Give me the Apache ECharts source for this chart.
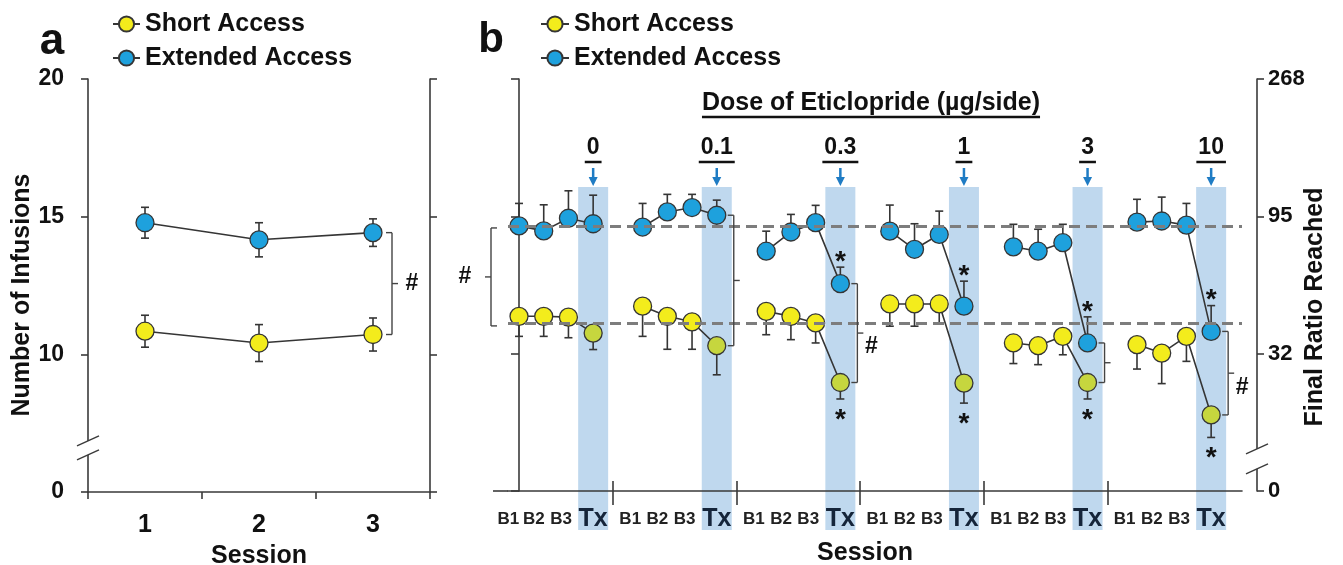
<!DOCTYPE html>
<html><head><meta charset="utf-8">
<script src="https://cdn.jsdelivr.net/npm/echarts@6/dist/echarts.min.js"></script>
<style>html,body{margin:0;padding:0;background:#fff}#c{width:1343px;height:565px}</style>
</head><body><div id="c"></div>
<script>
// ---------------- data ----------------
const seriesNames = ['Short Access', 'Extended Access'];
// Panel a
const sessionsA = ['1', '2', '3'];
const shortA = [10.84, 10.41, 10.72];
const shortAErr = [0.58, 0.67, 0.60];
const extA = [14.78, 14.16, 14.42];
const extAErr = [0.56, 0.62, 0.50];
const yTickVals = [5, 10, 15, 20];            // axis break: 5 is drawn as "0"
const yTickLabelsA = ['0', '10', '15', '20'];
// Panel b
const doses = ['0', '0.1', '0.3', '1', '3', '10'];
const sessionLabelsB = ['B1', 'B2', 'B3', 'Tx'];
const rightTickLabelsB = ['0', '32', '95', '268'];
const shortB = [
  [11.36, 11.36, 11.33, 10.75],
  [11.73, 11.36, 11.16, 10.29],
  [11.54, 11.36, 11.12, 8.95],
  [11.81, 11.81, 11.81, 8.93],
  [10.39, 10.29, 10.63, 8.95],
  [10.33, 10.02, 10.63, 7.77]
];
const shortBErr = [
  [0.73, 0.73, 0.75, 0.60],
  [1.10, 1.20, 1.00, 1.06],
  [0.85, 0.85, 0.73, 0.60],
  [0.81, 0.81, 0.69, 0.73],
  [0.75, 0.69, 0.67, 0.60],
  [0.89, 1.11, 0.91, 0.82]
];
const extB = [
  [14.65, 14.47, 14.93, 14.73],
  [14.61, 15.16, 15.32, 15.04],
  [13.73, 14.43, 14.77, 12.55],
  [14.46, 13.80, 14.34, 11.73],
  [13.89, 13.73, 14.04, 10.39],
  [14.79, 14.83, 14.68, 10.81]
];
const extBErr = [
  [0.82, 0.95, 1.00, 1.04],
  [0.86, 0.64, 0.48, 0.55],
  [0.73, 0.64, 0.63, 0.60],
  [0.95, 0.93, 0.85, 0.91],
  [0.82, 0.80, 0.67, 0.95],
  [0.83, 0.87, 0.79, 0.94]
];
const baselineExt = 14.65;
const baselineShort = 11.12;
const sigTx = [false, false, true, true, true, true];      // * on Tx points
const txBracket = [null, '', '#', null, '', '#'];         // bracket between Tx points

// ---------------- style / layout ----------------
const FONT = '"Liberation Sans", Arial, Helvetica, sans-serif';
const YELLOW = '#f3ec1c', BLUE = '#1ea1dd', GREEN = '#c6d63e', EDGE = '#353535', AX = '#3a3a3a';
const BAND = '#bfd8ee';
const GA = {left: 88, top: 79, width: 342, height: 413};
const GB = {left: 508, top: 79, width: 734, height: 412};
const GROUP = 5;
const XMIN_B = -0.445, XMAX_B = 29.248;
const BAND_TOP = 16.07;
const labelOffsets = [-0.5, 0.6, 1.7, 3];
const xPos = (g, p) => g * GROUP + p;

// label positions for panel b x axis
const xLabelVals = [], xLabelText = {};
doses.forEach((d, g) => labelOffsets.forEach((o, i) => {
  const v = +Math.max(g * GROUP + o, XMIN_B + 0.01).toFixed(3);
  xLabelVals.push(v); xLabelText[v.toFixed(2)] = sessionLabelsB[i];
}));
const sepVals = doses.slice(1).map((d, g) => +(g * GROUP + 3.8).toFixed(2));

function buildLine(vals, txColor) {
  const out = [];
  vals.forEach((grp, g) => {
    grp.forEach((v, p) => {
      const item = {value: [xPos(g, p), v]};
      if (p === 3 && txColor) item.itemStyle = {color: txColor};
      out.push(item);
    });
    if (g < vals.length - 1) out.push({value: [xPos(g, 4), '-']});
  });
  return out;
}
function buildErr(vals, errs, up) {
  const out = [];
  vals.forEach((grp, g) => grp.forEach((v, p) => {
    out.push(up ? [xPos(g, p), v, errs[g][p], 0] : [xPos(g, p), v, 0, errs[g][p]]);
  }));
  return out;
}
function renderErr(params, api) {
  const x = api.value(0), y = api.value(1), up = api.value(2), dn = api.value(3);
  const c = api.coord([x, y]), t = api.coord([x, y + up]), b = api.coord([x, y - dn]);
  const st = {stroke: EDGE, lineWidth: 1.6};
  const ch = [{type: 'line', shape: {x1: c[0], y1: t[1], x2: c[0], y2: b[1]}, style: st}];
  if (up > 0) ch.push({type: 'line', shape: {x1: c[0] - 4, y1: t[1], x2: c[0] + 4, y2: t[1]}, style: st});
  if (dn > 0) ch.push({type: 'line', shape: {x1: c[0] - 4, y1: b[1], x2: c[0] + 4, y2: b[1]}, style: st});
  return {type: 'group', children: ch};
}
function bracketShape(x, y1, y2, stubDir, tickDir, label, lx, ly) {
  const st = {stroke: '#444', lineWidth: 1.4};
  const ym = (y1 + y2) / 2;
  const ch = [
    {type: 'line', shape: {x1: x, y1: y1, x2: x, y2: y2}, style: st},
    {type: 'line', shape: {x1: x, y1: y1, x2: x + stubDir * 6, y2: y1}, style: st},
    {type: 'line', shape: {x1: x, y1: y2, x2: x + stubDir * 6, y2: y2}, style: st},
    {type: 'line', shape: {x1: x, y1: ym, x2: x + tickDir * 6, y2: ym}, style: st}
  ];
  if (label) ch.push({type: 'text', x: lx, y: ly === undefined ? ym : ly,
    style: {text: label, font: 'bold 23px ' + FONT, fill: '#111', align: 'center', verticalAlign: 'middle'}});
  return {type: 'group', children: ch};
}

const bandData = doses.map((d, g) => [xPos(g, 3), BAND_TOP]);
const astExt = [], astShort = [];
doses.forEach((d, g) => { if (sigTx[g]) {
  astExt.push([xPos(g, 3), extB[g][3] + extBErr[g][3]]);
  astShort.push([xPos(g, 3), shortB[g][3] - shortBErr[g][3]]);
}});
const bracketData = [], bracketLabels = [];
doses.forEach((d, g) => { if (txBracket[g] !== null) {
  bracketData.push([xPos(g, 3), extB[g][3], shortB[g][3]]); bracketLabels.push(txBracket[g]);
}});

const axisLine = {show: true, lineStyle: {color: AX, width: 1.6}};
const lab = (size) => ({fontFamily: FONT, fontWeight: 'bold', fontSize: size, color: '#111'});

const option = {
  animation: false,
  backgroundColor: '#fff',
  grid: [
    {left: GA.left, top: GA.top, width: GA.width, height: GA.height, containLabel: false, outerBoundsMode: 'none'},
    {left: GB.left, top: GB.top, width: GB.width, height: GB.height, containLabel: false, outerBoundsMode: 'none'}
  ],
  legend: [
    {orient: 'vertical', left: 107, top: 6, itemWidth: 27, itemHeight: 19, itemGap: 8, selectedMode: false,
     data: seriesNames, textStyle: Object.assign(lab(25), {lineHeight: 26})},
    {orient: 'vertical', left: 535, top: 6, itemWidth: 28, itemHeight: 19, itemGap: 8, selectedMode: false,
     data: seriesNames, textStyle: Object.assign(lab(25), {lineHeight: 26})}
  ],
  xAxis: [
    {gridIndex: 0, type: 'category', data: sessionsA, boundaryGap: true, axisLine,
     axisTick: {show: true, length: 7, lineStyle: {color: AX, width: 1.6}},
     axisLabel: Object.assign(lab(25), {margin: 21}),
     name: 'Session', nameLocation: 'middle', nameGap: 48, nameTextStyle: Object.assign(lab(25), {lineHeight: 26}),
     splitLine: {show: false}},
    {gridIndex: 1, type: 'value', min: XMIN_B, max: XMAX_B, axisLine, z: 10,
     axisTick: {show: true, inside: true, length: 10, customValues: sepVals, lineStyle: {color: AX, width: 1.6}},
     axisLabel: {show: true, customValues: xLabelVals, margin: 15, hideOverlap: false,
       formatter: v => { const t = xLabelText[(+v).toFixed(2)]; return t === 'Tx' ? '{t|Tx}' : '{b|' + t + '}'; },
       rich: {b: {fontFamily: FONT, fontWeight: 'bold', fontSize: 17, color: '#222', lineHeight: 26},
              t: {fontFamily: FONT, fontWeight: 'bold', fontSize: 25, color: '#15253a', lineHeight: 26}}},
     name: 'Session', nameLocation: 'middle', nameGap: 49,
     nameTextStyle: Object.assign(lab(25), {lineHeight: 26, padding: [0, 20, 0, 0]}),
     splitLine: {show: false}},
    {gridIndex: 1, type: 'value', min: XMIN_B, max: XMAX_B, position: 'bottom', offset: 0, z: 10,
     axisLine: {show: false},
     axisTick: {show: true, length: 14, customValues: sepVals, lineStyle: {color: AX, width: 1.6}},
     axisLabel: {show: false}, splitLine: {show: false}}
  ],
  yAxis: [
    {gridIndex: 0, type: 'value', min: 5, max: 20, interval: 5, axisLine,
     axisTick: {show: true, length: 7, lineStyle: {color: AX, width: 1.6}},
     axisLabel: Object.assign(lab(23), {margin: 24, formatter: v => yTickLabelsA[yTickVals.indexOf(v)] || ''}),
     splitLine: {show: false}},
    {gridIndex: 0, type: 'value', position: 'right', min: 5, max: 20, interval: 5, axisLine,
     axisTick: {show: true, length: 7, lineStyle: {color: AX, width: 1.6}},
     axisLabel: {show: false}, splitLine: {show: false}},
    {gridIndex: 1, type: 'value', min: 5, max: 20, interval: 5, axisLine,
     axisTick: {show: true, length: 8, lineStyle: {color: AX, width: 1.6}},
     axisLabel: {show: false}, splitLine: {show: false}},
    {gridIndex: 1, type: 'value', position: 'right', offset: 15, min: 5, max: 20, interval: 5,
     axisLine: {show: true, onZero: false, lineStyle: {color: AX, width: 1.6}},
     axisTick: {show: true, length: 7, lineStyle: {color: AX, width: 1.6}},
     axisLabel: Object.assign(lab(22), {margin: 11, formatter: v => rightTickLabelsB[yTickVals.indexOf(v)] || ''}),
     splitLine: {show: false}}
  ],
  series: [
    // ---- panel a ----
    {name: 'Short Access', type: 'line', xAxisIndex: 0, yAxisIndex: 0, data: shortA, z: 3,
     symbol: 'circle', symbolSize: 18, itemStyle: {color: YELLOW, borderColor: EDGE, borderWidth: 1.3},
     lineStyle: {color: EDGE, width: 1.6}},
    {name: 'Extended Access', type: 'line', xAxisIndex: 0, yAxisIndex: 0, data: extA, z: 3,
     symbol: 'circle', symbolSize: 18, itemStyle: {color: BLUE, borderColor: EDGE, borderWidth: 1.3},
     lineStyle: {color: EDGE, width: 1.6}},
    {type: 'custom', xAxisIndex: 0, yAxisIndex: 0, z: 2, silent: true, renderItem: renderErr, encode: {x: 0, y: 1},
     data: sessionsA.map((s, i) => [i, shortA[i], shortAErr[i], shortAErr[i]])
       .concat(sessionsA.map((s, i) => [i, extA[i], extAErr[i], extAErr[i]]))},
    {type: 'custom', xAxisIndex: 0, yAxisIndex: 0, z: 5, silent: true, encode: {x: 0, y: 1},
     data: [[sessionsA.length - 1, extA[2], shortA[2]]],
     renderItem: (params, api) => {
       const a = api.coord([api.value(0), api.value(1)]), b = api.coord([api.value(0), api.value(2)]);
       const x = a[0] + 19;
       return bracketShape(x, a[1], b[1], -1, 1, '#', x + 20);
     }},
    // ---- panel b ----
    {type: 'custom', xAxisIndex: 1, yAxisIndex: 2, z: 1, silent: true, encode: {x: 0, y: 1}, data: bandData,
     renderItem: (params, api) => {
       const t = api.coord([api.value(0), api.value(1)]), b = api.coord([api.value(0), 5]);
       return {type: 'rect', shape: {x: t[0] - 15, y: t[1], width: 30, height: b[1] + 39 - t[1]}, style: {fill: BAND}};
     }},
    {type: 'custom', xAxisIndex: 1, yAxisIndex: 2, z: 2, silent: true, renderItem: renderErr, encode: {x: 0, y: 1},
     data: buildErr(shortB, shortBErr, false).concat(buildErr(extB, extBErr, true))},
    {name: 'Short Access', type: 'line', xAxisIndex: 1, yAxisIndex: 2, data: buildLine(shortB, GREEN), z: 3,
     symbol: 'circle', symbolSize: 18, connectNulls: false, itemStyle: {color: YELLOW, borderColor: EDGE, borderWidth: 1.3},
     lineStyle: {color: EDGE, width: 1.6}},
    {name: 'Extended Access', type: 'line', xAxisIndex: 1, yAxisIndex: 2, data: buildLine(extB, null), z: 3,
     symbol: 'circle', symbolSize: 18, connectNulls: false, itemStyle: {color: BLUE, borderColor: EDGE, borderWidth: 1.3},
     lineStyle: {color: EDGE, width: 1.6}},
    {type: 'line', xAxisIndex: 1, yAxisIndex: 2, data: [], z: 4, silent: true,
     markLine: {silent: true, symbol: 'none', label: {show: false},
       lineStyle: {type: [11, 6], color: '#7d7d7d', width: 3},
       data: [{yAxis: baselineExt}, {yAxis: baselineShort}]}},
    {type: 'custom', xAxisIndex: 1, yAxisIndex: 2, z: 5, silent: true, encode: {x: 0, y: 1}, data: astExt,
     renderItem: (params, api) => {
       const c = api.coord([api.value(0), api.value(1)]);
       return {type: 'text', x: c[0], y: c[1] - 5, style: {text: '*', font: 'bold 28px ' + FONT, fill: '#111', align: 'center', verticalAlign: 'middle'}};
     }},
    {type: 'custom', xAxisIndex: 1, yAxisIndex: 2, z: 5, silent: true, encode: {x: 0, y: 1}, data: astShort,
     renderItem: (params, api) => {
       const c = api.coord([api.value(0), api.value(1)]);
       return {type: 'text', x: c[0], y: c[1] + 21, style: {text: '*', font: 'bold 28px ' + FONT, fill: '#111', align: 'center', verticalAlign: 'middle'}};
     }},
    {type: 'custom', xAxisIndex: 1, yAxisIndex: 2, z: 5, silent: true, encode: {x: 0, y: 1}, data: bracketData,
     renderItem: (params, api) => {
       const a = api.coord([api.value(0), api.value(1)]), b = api.coord([api.value(0), api.value(2)]);
       const x = a[0] + 17;
       return bracketShape(x, a[1], b[1], -1, 1, bracketLabels[params.dataIndex], x + 14, (a[1] + b[1]) / 2 + 14);
     }},
    {type: 'custom', xAxisIndex: 1, yAxisIndex: 2, z: 5, silent: true, encode: {x: 0, y: 1},
     data: [[XMIN_B, baselineExt, baselineShort]],
     renderItem: (params, api) => {
       const a = api.coord([api.value(0), api.value(1)]), b = api.coord([api.value(0), api.value(2)]);
       const x = a[0] - 17;
       return bracketShape(x, a[1] + 2, b[1] + 3, 1, -1, '#', x - 26);
     }}
  ]
};

const chart = echarts.init(document.getElementById('c'), null, {renderer: 'canvas'});
chart.setOption(option);

// ---------------- annotations positioned from the scales ----------------
const cv = document.createElement('canvas').getContext('2d');
function textW(font, t) { cv.font = font; return cv.measureText(t).width; }
const SB = 6; // panel-b series index
const gfx = [];
function txt(t, x, y, size, extra) {
  return Object.assign({type: 'text', x, y, style: {text: t, font: 'bold ' + size + 'px ' + FONT, fill: '#111', align: 'center', verticalAlign: 'middle'}}, extra || {});
}
// panel letters
gfx.push(txt('a', 52, 42, 44));
gfx.push(txt('b', 491, 40, 42));
// rotated axis titles
gfx.push(txt('Number of Infusions', 22, 295, 25, {rotation: Math.PI / 2}));
gfx.push(txt('Final Ratio Reached', 1315, 307, 25, {rotation: Math.PI / 2}));
// dose title
const doseTitle = 'Dose of Eticlopride (\u00b5g/side)';
const dtW = textW('bold 25px ' + FONT, doseTitle);
gfx.push(txt(doseTitle, 871, 103, 25));
gfx.push({type: 'line', shape: {x1: 871 - dtW / 2, y1: 117, x2: 871 + dtW / 2, y2: 117}, style: {stroke: '#111', lineWidth: 2.5}});
// dose numbers, underlines, arrows
doses.forEach((d, g) => {
  const px = chart.convertToPixel({seriesIndex: SB}, [xPos(g, 3), 10])[0];
  const w = textW('bold 23px ' + FONT, d) + 4;
  gfx.push(txt(d, px, 148, 23));
  gfx.push({type: 'line', shape: {x1: px - w / 2, y1: 162, x2: px + w / 2, y2: 162}, style: {stroke: '#111', lineWidth: 2.5}});
  gfx.push({type: 'line', shape: {x1: px, y1: 168, x2: px, y2: 180}, style: {stroke: '#1f7cc4', lineWidth: 2.5}});
  gfx.push({type: 'polygon', shape: {points: [[px - 4.5, 177], [px + 4.5, 177], [px, 186]]}, style: {fill: '#1f7cc4'}});
});
// axis breaks
function brk(x, yc, h) {
  gfx.push({type: 'rect', shape: {x: x - 3, y: yc - h, width: 6, height: 2 * h}, style: {fill: '#fff'}, z: 10});
  [-h, h].forEach(o => gfx.push({type: 'line', shape: {x1: x - 11, y1: yc + o + 5, x2: x + 11, y2: yc + o - 5}, style: {stroke: AX, lineWidth: 1.4}, z: 11}));
}
const aBreak = chart.convertToPixel({seriesIndex: 0}, [0, 6.6]);
brk(GA.left, aBreak[1], 7);
const bBreak = chart.convertToPixel({seriesIndex: SB}, [XMAX_B, 6.17]);
brk(bBreak[0] + 15, bBreak[1], 10);
// x axis line extension left of panel b's y axis
const bOrigin = chart.convertToPixel({seriesIndex: SB}, [XMIN_B, 5]);
gfx.push({type: 'line', shape: {x1: bOrigin[0] - 15, y1: bOrigin[1], x2: bOrigin[0], y2: bOrigin[1]}, style: {stroke: AX, lineWidth: 1.6}});
chart.setOption({graphic: {elements: gfx}});
</script>
</body></html>
